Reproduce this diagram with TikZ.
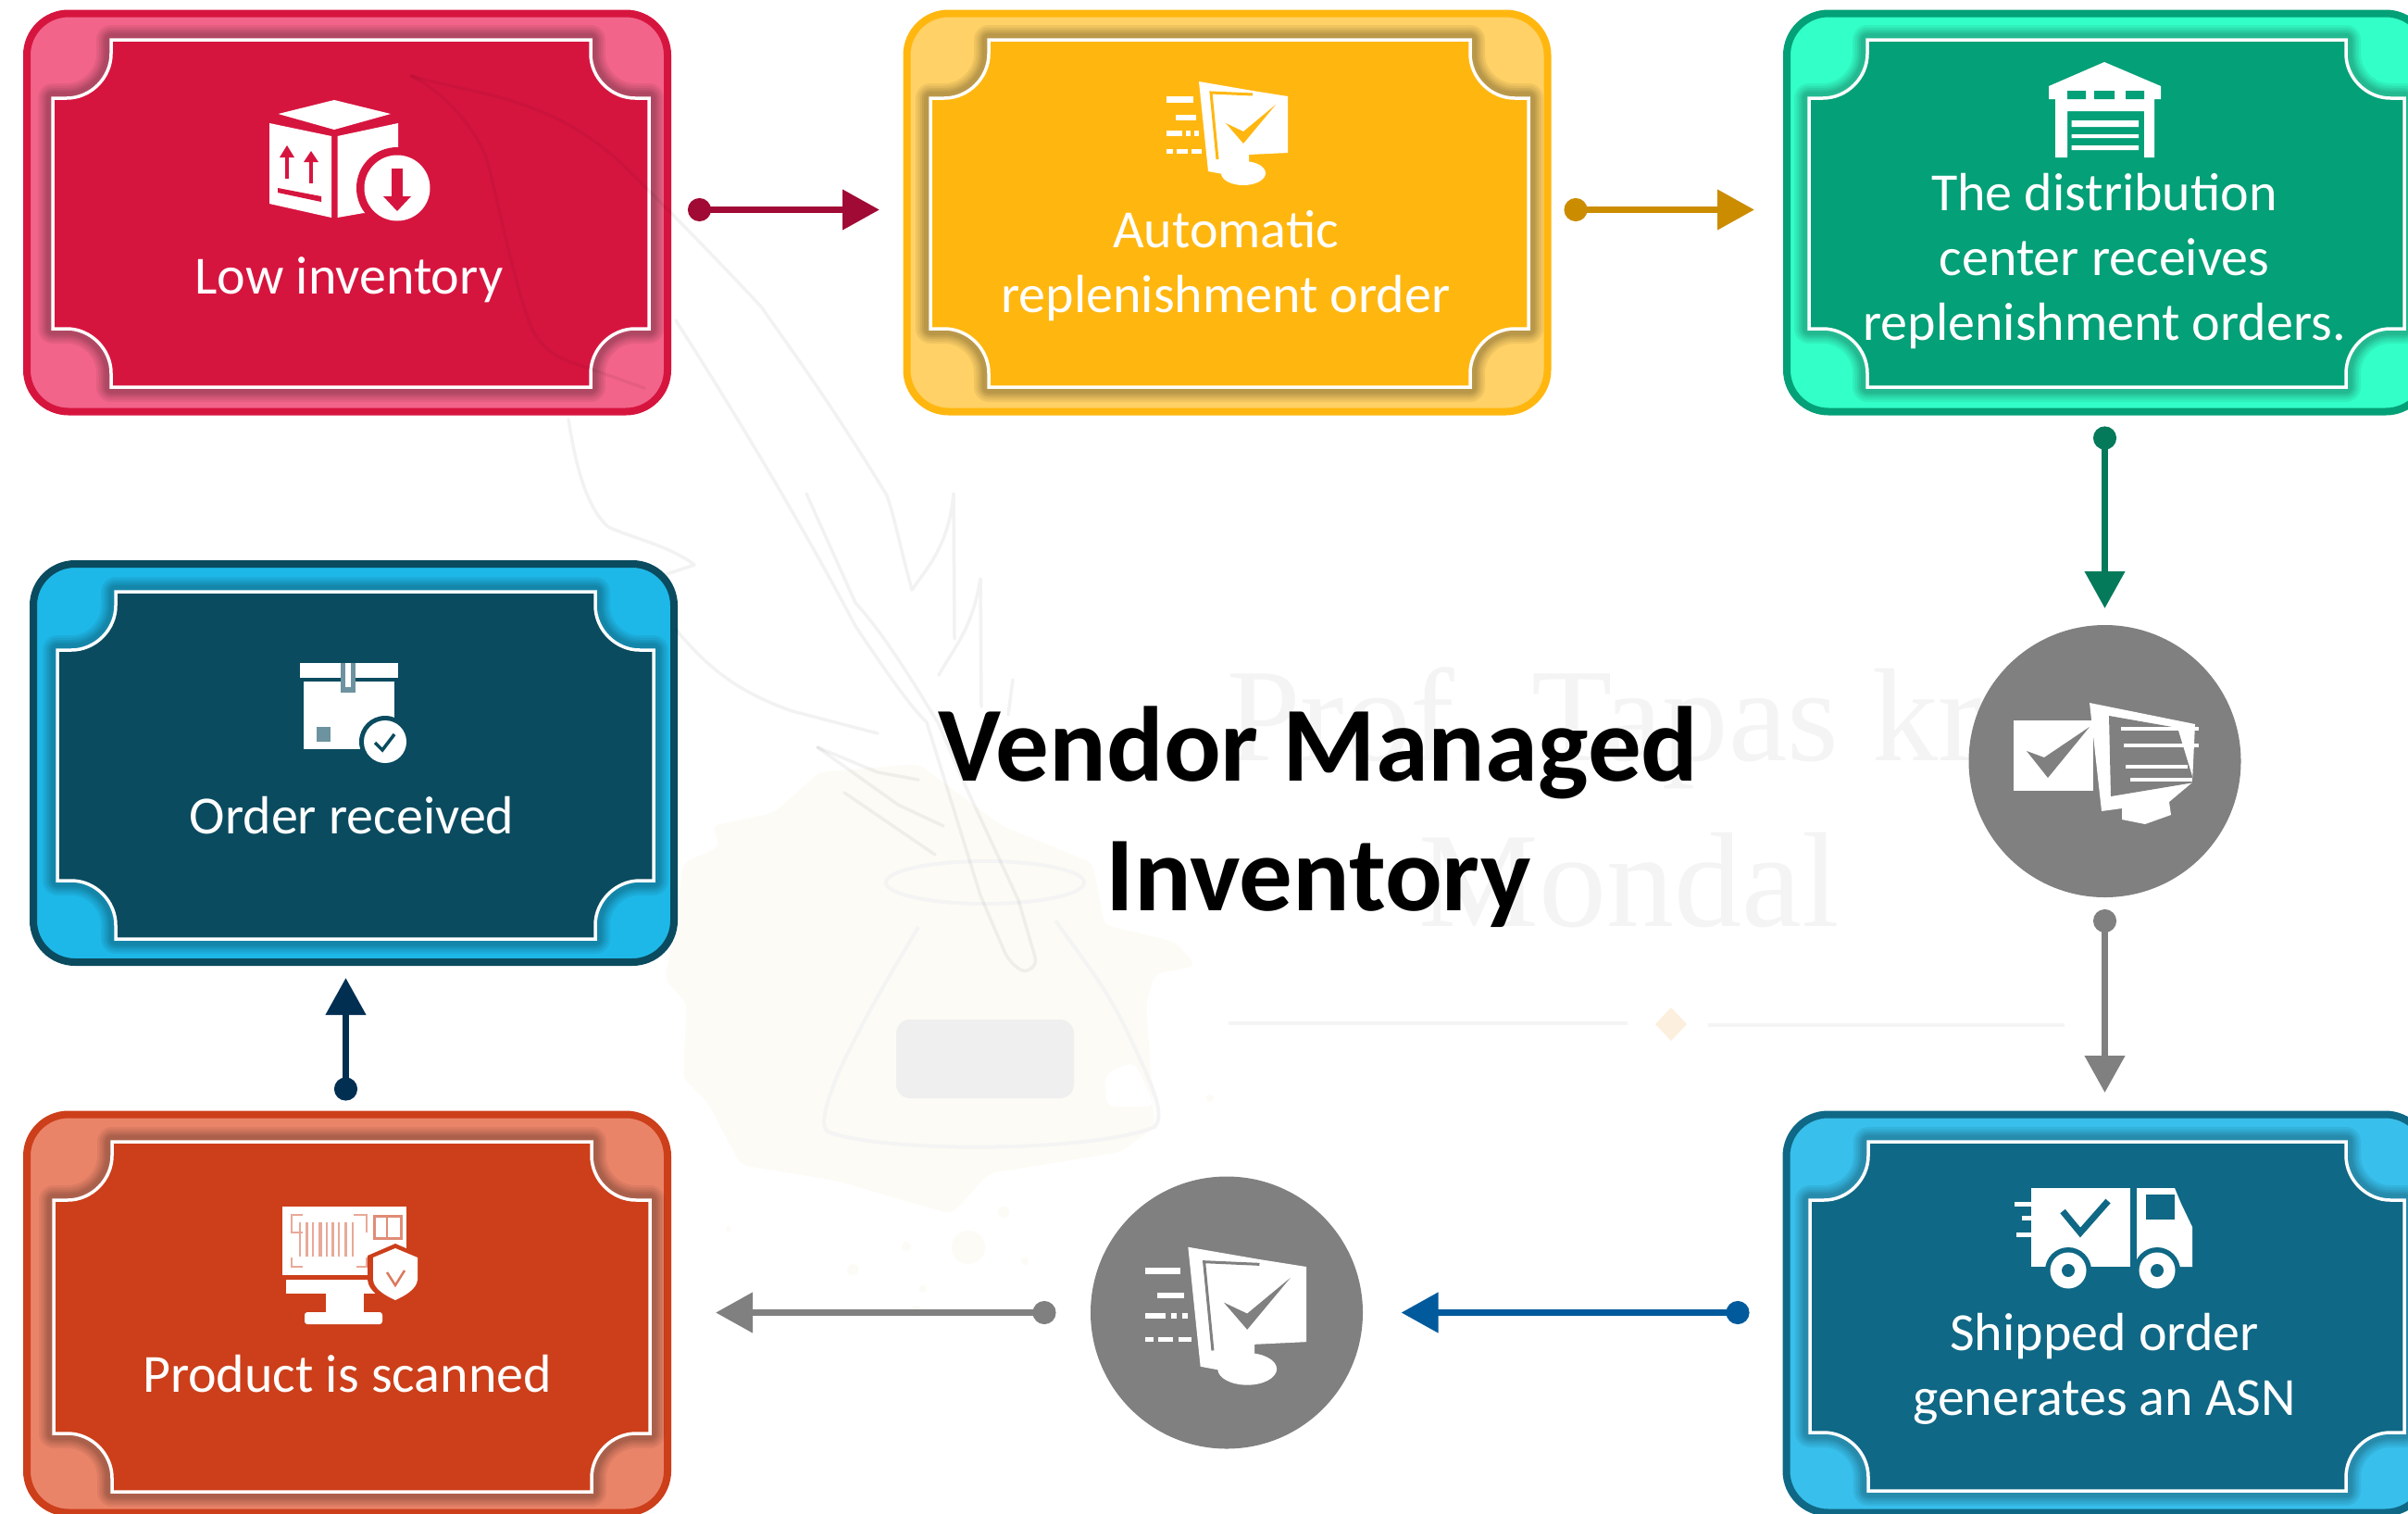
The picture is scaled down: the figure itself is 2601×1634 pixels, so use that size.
\documentclass[tikz,border=0pt]{standalone}
\usepackage{fontspec}
\setmainfont{Carlito}
\newfontfamily\wmfont{Liberation Serif}
\usetikzlibrary{arrows.meta}
\definecolor{redD}{HTML}{D6153F}\definecolor{redL}{HTML}{F2648A}
\definecolor{yelD}{HTML}{FFB710}\definecolor{yelL}{HTML}{FFD166}
\definecolor{grnD}{HTML}{04A077}\definecolor{grnL}{HTML}{33FFC8}
\definecolor{navD}{HTML}{0A4B5F}\definecolor{navL}{HTML}{1EB8E8}
\definecolor{orgD}{HTML}{CC3F1A}\definecolor{orgL}{HTML}{EA8469}
\definecolor{bluD}{HTML}{0F6885}\definecolor{bluL}{HTML}{38BFEB}
\definecolor{disc}{HTML}{808080}
\definecolor{arRed}{HTML}{A00A35}\definecolor{arOrg}{HTML}{CC8C00}
\definecolor{arGrn}{HTML}{047A5B}\definecolor{arBlu}{HTML}{005A9C}
\definecolor{arNav}{HTML}{012F52}
\definecolor{wmgrey}{HTML}{F4F4F4}\definecolor{wmcream}{HTML}{FDFBF5}
\tikzset{
  x=1pt,y=-1pt,
  vmouter/.style={rectangle,inner sep=0pt,outer sep=0pt,minimum width=692pt,minimum height=430pt,rounded corners=45pt,line width=8pt},
  vmtext/.style={text=white,font=\fontsize{58}{70}\selectfont,align=center,anchor=base,inner sep=0pt},
  vmdisc/.style={circle,fill=disc,minimum size=294pt,inner sep=0pt,outer sep=0pt},
  conn/.style={line width=7.5pt,{Circle[length=25pt]}-{Triangle[length=40pt,width=42pt]}},
  ic/.style={fill=white,draw=none},
  wm/.style={draw=black,opacity=0.05,line width=3.5pt,line cap=round,line join=round},
}
\def\plaq#1#2#3#4{({#1+63},#2) -- ({#3-63},#2) -- ++(0,15) .. controls +(0,26) and +(-26,0) .. ++(48,48) -- ++(15,0) -- (#3,{#4-63}) -- ++(-15,0) .. controls +(-26,0) and +(0,-26) .. ++(-48,48) -- ++(0,15) -- ({#1+63},#4) -- ++(0,-15) .. controls +(0,-26) and +(26,0) .. ++(-48,-48) -- ++(-15,0) -- (#1,{#2+63}) -- ++(15,0) .. controls +(26,0) and +(0,26) .. ++(48,-48) -- cycle}
% name, cx, cy, inner x0,y0,x1,y1, dark, light
\def\vmbox#1#2#3#4#5#6#7#8#9{%
  \node[vmouter,draw=#8,fill=#9] (#1) at (#2,#3) {};
  \foreach \w in {32,27,22,18,14}{\draw[black,opacity=0.06,line width=\w pt,line join=round] \plaq{#4}{#5}{#6}{#7};}
  \draw[white,fill=#8,line width=3.5pt,line join=miter] \plaq{#4}{#5}{#6}{#7};
}
% monitor with tick: origin = top right of the screen
\def\monicon#1#2#3#4{%
  \begin{scope}[shift={(#1,#2)},scale=#3]
    \fill[ic] (-96,-16) -- (-38,-6) -- (0,0) -- (0,61) -- (-42,63) -- (-42,80) -- (-70,84) -- (-86,81) -- cycle;
    \draw[#4,line width=3pt] (-38,-2) -- (-83,-4) -- (-76,68);
    \fill[#4] (-67,29) -- (-48,51) -- (-13,9) -- (-48,38) -- cycle;
    \fill[ic] (-48,83) ellipse (24 and 13);
    \draw[white,line width=7pt] (-131,3) -- (-102,3);
    \draw[white,line width=6pt] (-121,23) -- (-99,23);
    \draw[white,line width=6pt] (-131,40) -- (-114,40) (-110,40) -- (-105,40) (-101,40) -- (-96,40);
    \draw[white,line width=5pt] (-131,59) -- (-124,59) (-120,59) -- (-108,59) (-104,59) -- (-93,59);
  \end{scope}}
\begin{document}
\begin{tikzpicture}
\useasboundingbox (0,0) rectangle (2601,1634);
\fill[white] (0,0) rectangle (2601,1634);
% ---------- watermark, behind
\fill[wmcream,rounded corners=8pt] (885,834) -- (836,878) -- (769,892) -- (778,914) -- (738,932) -- (729,1003) -- (718,1057) -- (742,1084) -- (738,1164) -- (765,1191) -- (800,1258) -- (903,1275) -- (1028,1311) -- (1068,1267) -- (1211,1244) -- (1247,1217) -- (1238,1084) -- (1247,1052) -- (1292,1043) -- (1269,1017) -- (1193,999) -- (1180,932) -- (1082,892) -- (992,825) -- cycle;
\fill[white,rounded corners=10pt] (1193,1160) -- (1225,1146) -- (1248,1195) -- (1195,1195) -- cycle;
\fill[wmcream] (1046,1347) circle (18) (921,1371) circle (6) (979,1346) circle (5) (1084,1309) circle (6) (997,1392) circle (4) (990,1416) circle (6) (1107,1362) circle (4) (1307,1186) circle (4) (787,1327) circle (3);
\draw[wmgrey,line width=4pt] (992,1001) .. controls (960,1055) and (930,1105) .. (905,1160) .. controls (893,1190) and (885,1215) .. (894,1222) .. controls (950,1245) and (1180,1245) .. (1247,1217) .. controls (1258,1205) and (1250,1180) .. (1211,1101) .. controls (1190,1060) and (1165,1030) .. (1140,994);
\draw[wmgrey,line width=4pt] (1064,953) ellipse (107 and 23);
\fill[wmgrey!98!black,rounded corners=15pt] (968,1101) rectangle (1160,1186);
\node[text=wmgrey,font=\wmfont\fontsize{143}{143}\selectfont,anchor=base west,inner sep=0pt] (wm1) at (1325,821) {Prof. Tapas kr};
\node[text=wmgrey,font=\wmfont\fontsize{146}{146}\selectfont,anchor=base,inner sep=0pt] (wm2) at (1760,1000) {Mondal};
\draw[wmgrey,line width=4pt] (1327,1105) -- (1758,1105) (1845,1107) -- (2230,1107);
\fill[wmcream!90!orange] (1805,1088) -- (1822,1106) -- (1805,1124) -- (1788,1106) -- cycle;
% ---------- boxes
\vmbox{low}{375}{229.5}{57}{43}{701}{418}{redD}{redL}
\vmbox{auto}{1325.5}{229.5}{1005}{43}{1651}{418}{yelD}{yelL}
\vmbox{dc}{2276}{229.5}{1954}{43}{2597}{418}{grnD}{grnL}
\vmbox{recv}{382}{824}{62}{639}{706}{1014}{navD}{navL}
\vmbox{scan}{375}{1418.5}{58}{1233}{702}{1611}{orgD}{orgL}
\vmbox{ship}{2275.5}{1418.5}{1955}{1233}{2597}{1610}{bluD}{bluL}
\node[vmdisc] (discA) at (2273.5,822) {};
\node[vmdisc] (discB) at (1325,1417.5) {};
% ---------- feather over the boxes
\draw[wm] (444,82) .. controls (490,95) and (530,100) .. (565,113) .. controls (600,125) and (640,145) .. (680,185) .. controls (720,225) and (760,265) .. (822,331) .. controls (860,385) and (900,440) .. (958,535) .. controls (968,565) and (972,590) .. (985,637) .. controls (1000,615) and (1025,590) .. (1030,533) -- (1031,690);
\draw[wm] (444,82) .. controls (480,100) and (510,135) .. (524,167) .. controls (535,200) and (555,310) .. (575,356) .. controls (585,375) and (600,385) .. (614,390) -- (696,419);
\draw[wm] (614,453) .. controls (620,490) and (630,545) .. (657,569) .. controls (680,580) and (725,590) .. (750,610) -- (720,620);
\draw[wm] (730,680) .. controls (760,715) and (790,745) .. (856,768) -- (948,792);
\draw[wm] (1014,729) .. controls (1030,700) and (1050,680) .. (1059,625) -- (1060,763);
\draw[wm] (1094,734) -- (1089,772);
\draw[wm] (730,346) .. controls (790,440) and (860,555) .. (924,676) .. controls (960,730) and (985,765) .. (1001,780) -- (1059,967) -- (1086,1030) .. controls (1095,1045) and (1105,1050) .. (1109,1048) .. controls (1118,1045) and (1120,1040) .. (1117,1030) -- (1100,972) -- (1042,847) -- (1013,780) .. controls (1000,760) and (960,690) .. (924,651) -- (871,533);
\draw[wm] (883,807) -- (948,834) -- (992,842);
\draw[wm] (883,807) -- (970,869) -- (1019,892);
\draw[wm] (912,856) -- (1010,923);
% ---------- icon: low inventory
\fill[ic] (300.5,123) -- (361,108) -- (422,123) -- (361,140) -- cycle;
\fill[ic] (291,133) -- (358,147) -- (358,235) -- (291,220) -- cycle;
\fill[ic] (364.5,147) -- (430,133) -- (430,235) -- (393,230) -- (364.5,235) -- cycle;
\fill[redD] (429,203) circle (44);
\fill[ic] (429,203) circle (35.5);
\fill[redD] (423,182) rectangle (435,213);
\fill[redD] (414,212) -- (444,212) -- (429,228) -- cycle;
\fill[redD] (308,168) rectangle (312,193);
\fill[redD] (302,170) -- (310,157) -- (318,170) -- cycle;
\fill[redD] (334,173) rectangle (338,198);
\fill[redD] (328,175) -- (336,163) -- (344,175) -- cycle;
\fill[redD] (300,203) -- (347,212) -- (347,218) -- (300,208) -- cycle;
% ---------- icons: monitors
\monicon{1391}{104}{1}{yelD}
\monicon{1411}{1368}{1.33}{disc}
% ---------- icon: warehouse
\fill[ic] (2273,67) -- (2334,93) -- (2334,107) -- (2327,107) -- (2327,170) -- (2316,170) -- (2316,120) -- (2233,120) -- (2233,170) -- (2220,170) -- (2220,107) -- (2213,107) -- (2213,93) -- cycle;
\fill[grnD] (2233,98) rectangle (2253,107) (2262,98) rectangle (2284,107) (2296,98) rectangle (2316,107);
\fill[ic] (2237.5,130) rectangle (2310,137) (2237.5,145) rectangle (2310,149) (2237.5,157) rectangle (2310,162);
% ---------- icon: envelope and monitor in disc A
\fill[ic] (2175,778) rectangle (2261,854);
\fill[disc] (2189,811) -- (2212,840) -- (2257,785) -- (2208,818) -- cycle;
\fill[ic] (2257,759) -- (2371,782) -- (2368,845) -- (2343,866) -- (2345,880) -- (2317,890) -- (2292,885) -- (2292,873) -- (2270,876) -- cycle;
\fill[disc] (2278,773) -- (2352,786) -- (2370,845) -- (2280,860) -- cycle;
\draw[white,line width=4pt] (2291,787) -- (2375,787) (2294,805) -- (2375,805) (2296,828) -- (2363,828) (2301,842) -- (2368,842);
% ---------- icon: parcel
\fill[ic] (324,716) rectangle (430,732);
\fill[ic] (328,736) rectangle (426,809);
\fill[navD!60!white] (368,716) rectangle (384,748);
\fill[ic] (373,716) rectangle (379,742);
\fill[navD!60!white] (342,785) rectangle (357,801);
\fill[navD] (416,801) circle (28);
\fill[ic] (416,801) circle (23);
\draw[navD,line width=3.5pt] (405,802) -- (413,810) -- (426,793);
% ---------- icon: scanner monitor
\fill[ic] (305,1303) rectangle (439,1377);
\fill[ic] (309,1382) rectangle (408,1397);
\fill[ic] (352,1397) rectangle (393,1417);
\fill[ic,rounded corners=3pt] (329,1417) rectangle (413,1430);
\draw[orgD!45!white,line width=2.5pt] (327,1331) -- (315,1331) -- (315,1312) -- (327,1312) (382,1312) -- (396,1312) -- (396,1331) (396,1358) -- (396,1368) -- (385,1368) (327,1368) -- (315,1368) -- (315,1358);
\foreach \bx/\bw in {323/2,330/3,337/2,344/4,352/2,358/3,365/2,372/3,380/2}{\fill[orgD!45!white] (\bx,1320) rectangle ({\bx+\bw},1357);}
\draw[orgD!60!white,line width=3pt] (404,1313) rectangle (433,1337);
\draw[orgD!60!white,line width=2.5pt] (418,1313) -- (418,1337);
\fill[orgD] (427,1343) -- (457,1356) -- (457,1382) .. controls (456,1395) and (440,1404) .. (427,1410) .. controls (414,1404) and (398,1395) .. (397,1382) -- (397,1356) -- cycle;
\fill[ic] (427,1348) -- (451,1358) -- (451,1382) .. controls (450,1392) and (438,1399) .. (427,1404) .. controls (416,1399) and (404,1392) .. (403,1382) -- (403,1358) -- cycle;
\draw[orgD!70!white,line width=2.5pt] (418,1374) -- (427,1388) -- (437,1372);
% ---------- icon: truck
\fill[ic] (2194,1283) rectangle (2301,1368);
\fill[ic] (2308,1283) -- (2349,1283) -- (2356,1300) -- (2368,1325) -- (2368,1368) -- (2308,1368) -- cycle;
\fill[bluD] (2318,1290) rectangle (2349,1317);
\draw[white,line width=5pt] (2176,1300) -- (2196,1300) (2184,1315) -- (2196,1315) (2178,1333) -- (2196,1333);
\draw[bluD,line width=7pt] (2228,1308) -- (2247,1331) -- (2277,1297);
\fill[bluD] (2234,1372) circle (25) (2330,1372) circle (25);
\fill[ic] (2234,1372) circle (19.5) (2330,1372) circle (19.5);
\fill[bluD] (2234,1372) circle (7) (2330,1372) circle (7);
% ---------- box texts (the anchor is the baseline of the last line)
\node[vmtext] (tlow) at (377,317) {Low inventory};
\node[vmtext] (tauto) at (1324,337) {Automatic\\replenishment order};
\node[vmtext] (tdc) at (2273,367) {The distribution\\center receives\\replenishment orders.};
\node[vmtext] (trecv) at (380,900) {Order received};
\node[vmtext] (tscan) at (375,1503) {Product is scanned};
\node[vmtext] (tship) at (2273,1528) {Shipped order\\generates an ASN};
% ---------- connectors
\draw[conn,arRed,shorten <=22pt,shorten >=29.5pt] ([yshift=3pt]low.east) -- ([yshift=3pt]auto.west);
\draw[conn,arOrg,shorten <=18pt,shorten >=35pt] ([yshift=3pt]auto.east) -- ([yshift=3pt]dc.west);
\draw[conn,arGrn,shorten <=16pt,shorten >=18pt] ([xshift=-2.5pt]dc.south) -- (discA.north);
\draw[conn,disc,shorten <=13pt,shorten >=23.5pt] (discA.south) -- ([xshift=-2pt]ship.north);
\draw[conn,arBlu,shorten <=40pt,shorten >=41.5pt] ([yshift=1pt]ship.west) -- (discB.east);
\draw[conn,disc,shorten <=37.5pt,shorten >=52pt] (discB.west) -- ([yshift=1pt]scan.east);
\draw[conn,arNav,shorten <=15pt,shorten >=17pt] ([xshift=-1.5pt]scan.north) -- ([xshift=-8.5pt]recv.south);
% ---------- title
\node[font=\fontsize{115}{140}\selectfont\bfseries,align=center,anchor=base,inner sep=0pt] (title) at (1424,983) {Vendor Managed\\Inventory};
\end{tikzpicture}
\end{document}
